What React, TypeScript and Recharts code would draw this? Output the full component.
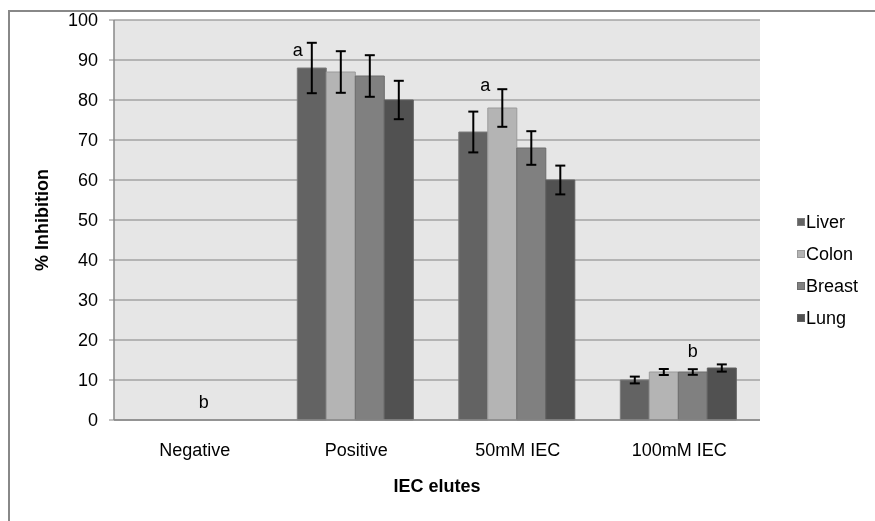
import { Bar, BarChart, CartesianGrid, ErrorBar, Label, LabelList, Legend, ReferenceDot, XAxis, YAxis } from "recharts"

const CATEGORIES = ["Negative", "Positive", "50mM IEC", "100mM IEC"]

const LIVER = [0, 88, 72, 10]
const LIVER_ERR = [0, 6.3, 5.1, 0.85]
const LIVER_NOTES = ["", "a", "", ""]

const COLON = [0, 87, 78, 12]
const COLON_ERR = [0, 5.2, 4.7, 0.75]
const COLON_NOTES = ["", "", "a", ""]

const BREAST = [0, 86, 68, 12]
const BREAST_ERR = [0, 5.2, 4.2, 0.7]
const BREAST_NOTES = ["", "", "", "b"]

const LUNG = [0, 80, 60, 13]
const LUNG_ERR = [0, 4.8, 3.6, 0.9]
const LUNG_NOTES = ["", "", "", ""]

// the Negative group has no visible bars, so its letter sits on the baseline
const NEGATIVE_NOTE = "b"

const Y_TICKS = [0, 10, 20, 30, 40, 50, 60, 70, 80, 90, 100]

const FONT = "'Liberation Sans', Arial, sans-serif"
const AXIS_GREY = "#888888"

const SERIES = [
  { key: "liver", name: "Liver", values: LIVER, errors: LIVER_ERR, notes: LIVER_NOTES, fill: "#636363", stroke: "#7c7c7c" },
  { key: "colon", name: "Colon", values: COLON, errors: COLON_ERR, notes: COLON_NOTES, fill: "#b4b4b4", stroke: "#9a9a9a" },
  { key: "breast", name: "Breast", values: BREAST, errors: BREAST_ERR, notes: BREAST_NOTES, fill: "#808080", stroke: "#6c6c6c" },
  { key: "lung", name: "Lung", values: LUNG, errors: LUNG_ERR, notes: LUNG_NOTES, fill: "#515151", stroke: "#616161" },
]

// Hand placement of the significance letters (Excel labels were dragged by hand).
const NOTE_NUDGE: Record<string, [number, number]> = {
  "liver:Positive": [-14, -12],
  "colon:50mM IEC": [-17, -17],
  "breast:100mM IEC": [0, -15],
}

const data = CATEGORIES.map((category, i) => {
  const row: Record<string, string | number> = { category }
  for (const s of SERIES) {
    row[s.key] = s.values[i]
    row[`${s.key}Err`] = s.errors[i]
    row[`${s.key}Note`] = s.notes[i]
  }
  return row
})

function noteRenderer(s: (typeof SERIES)[number]) {
  return (props: any) => {
    const category = props.value
    if (!category) return null
    const text = s.notes[CATEGORIES.indexOf(category)]
    if (!text) return null
    const box = props.viewBox ?? props
    const [dx, dy] = NOTE_NUDGE[`${s.key}:${category}`] ?? [0, -12]
    return (
      <text
        x={box.x + box.width / 2 + dx}
        y={box.y + dy}
        textAnchor="middle"
        fontFamily={FONT}
        fontSize={18}
        fill="#000"
      >
        {text}
      </text>
    )
  }
}

function LegendBox() {
  return (
    <div style={{ fontFamily: FONT, fontSize: 18, color: "#000" }}>
      {SERIES.map((s) => (
        <div key={s.key} style={{ display: "flex", alignItems: "center", height: 32 }}>
          <span
            style={{
              width: 6,
              height: 6,
              background: s.fill,
              border: `1px solid ${s.stroke}`,
              marginRight: 1,
              display: "inline-block",
            }}
          />
          <span>{s.name}</span>
        </div>
      ))}
    </div>
  )
}

export default function App() {
  // 505 tall so the page (with the 8px body margin) fits the 521px window without scrolling
  return (
    <div style={{ position: "relative", width: 859, height: 505 }}>
      {/* chart frame: only its top and left edges fall inside the window */}
      <div style={{ position: "fixed", left: 8, top: 10, width: 867, height: 2, background: AXIS_GREY }} />
      <div style={{ position: "fixed", left: 8, top: 10, width: 2, height: 511, background: AXIS_GREY }} />
      <div style={{ position: "absolute", left: 0, top: 0, width: 859, height: 505, overflow: "hidden" }}>
        <BarChart
          width={859}
          height={513}
          data={data}
          margin={{ top: 12, right: 107, bottom: 71, left: 0 }}
          barCategoryGap="13.5%"
          barGap={0}
        >
          <CartesianGrid vertical={false} fill="#e6e6e6" stroke="#a3a3a3" strokeWidth={1.5} />
          <XAxis
            dataKey="category"
            height={30}
            tickLine={false}
            axisLine={{ stroke: AXIS_GREY, strokeWidth: 1.5 }}
            tickSize={6}
            tickMargin={17}
            tick={{ fill: "#000", fontSize: 18, fontFamily: FONT }}
            interval={0}
          >
            <Label
              content={(p: any) => {
                const vb = p.viewBox
                return (
                  <text
                    x={vb.x + vb.width / 2}
                    y={vb.y + 72}
                    textAnchor="middle"
                    fontFamily={FONT}
                    fontSize={18}
                    fontWeight="bold"
                    fill="#000"
                  >
                    IEC elutes
                  </text>
                )
              }}
            />
          </XAxis>
          <YAxis
            width={106}
            domain={[0, 100]}
            ticks={Y_TICKS}
            interval={0}
            axisLine={{ stroke: AXIS_GREY, strokeWidth: 1.5 }}
            tickLine={{ stroke: AXIS_GREY }}
            tickSize={5}
            tickMargin={11}
            tick={{ fill: "#000", fontSize: 18, fontFamily: FONT }}
          >
            <Label
              content={(p: any) => {
                const vb = p.viewBox
                const cx = vb.x + 34
                const cy = vb.y + vb.height / 2
                return (
                  <text
                    x={cx}
                    y={cy}
                    dy="0.35em"
                    transform={`rotate(-90 ${cx} ${cy})`}
                    textAnchor="middle"
                    fontFamily={FONT}
                    fontSize={18}
                    fontWeight="bold"
                    fill="#000"
                  >
                    % Inhibition
                  </text>
                )
              }}
            />
          </YAxis>
          <Legend
            layout="vertical"
            align="center"
            verticalAlign="middle"
            wrapperStyle={{ left: 789, top: 198, width: "auto" }}
            content={() => <LegendBox />}
          />
          {SERIES.map((s) => (
            <Bar
              key={s.key}
              dataKey={s.key}
              name={s.name}
              fill={s.fill}
              stroke={s.stroke}
              strokeWidth={1}
              isAnimationActive={false}
            >
              <ErrorBar dataKey={`${s.key}Err`} width={5} stroke="#000" strokeWidth={2} direction="y" />
              <LabelList
                dataKey={(row: any) => (row[`${s.key}Note`] ? row.category : "")}
                content={noteRenderer(s)}
              />
            </Bar>
          ))}
          <ReferenceDot
            x="Negative"
            y={0}
            r={0}
            fill="none"
            stroke="none"
            label={(p: any) => {
              const vb = p.viewBox
              return (
                <text x={vb.x + 9} y={vb.y - 12} textAnchor="middle" fontFamily={FONT} fontSize={18} fill="#000">
                  {NEGATIVE_NOTE}
                </text>
              )
            }}
          />
        </BarChart>
      </div>
    </div>
  )
}
